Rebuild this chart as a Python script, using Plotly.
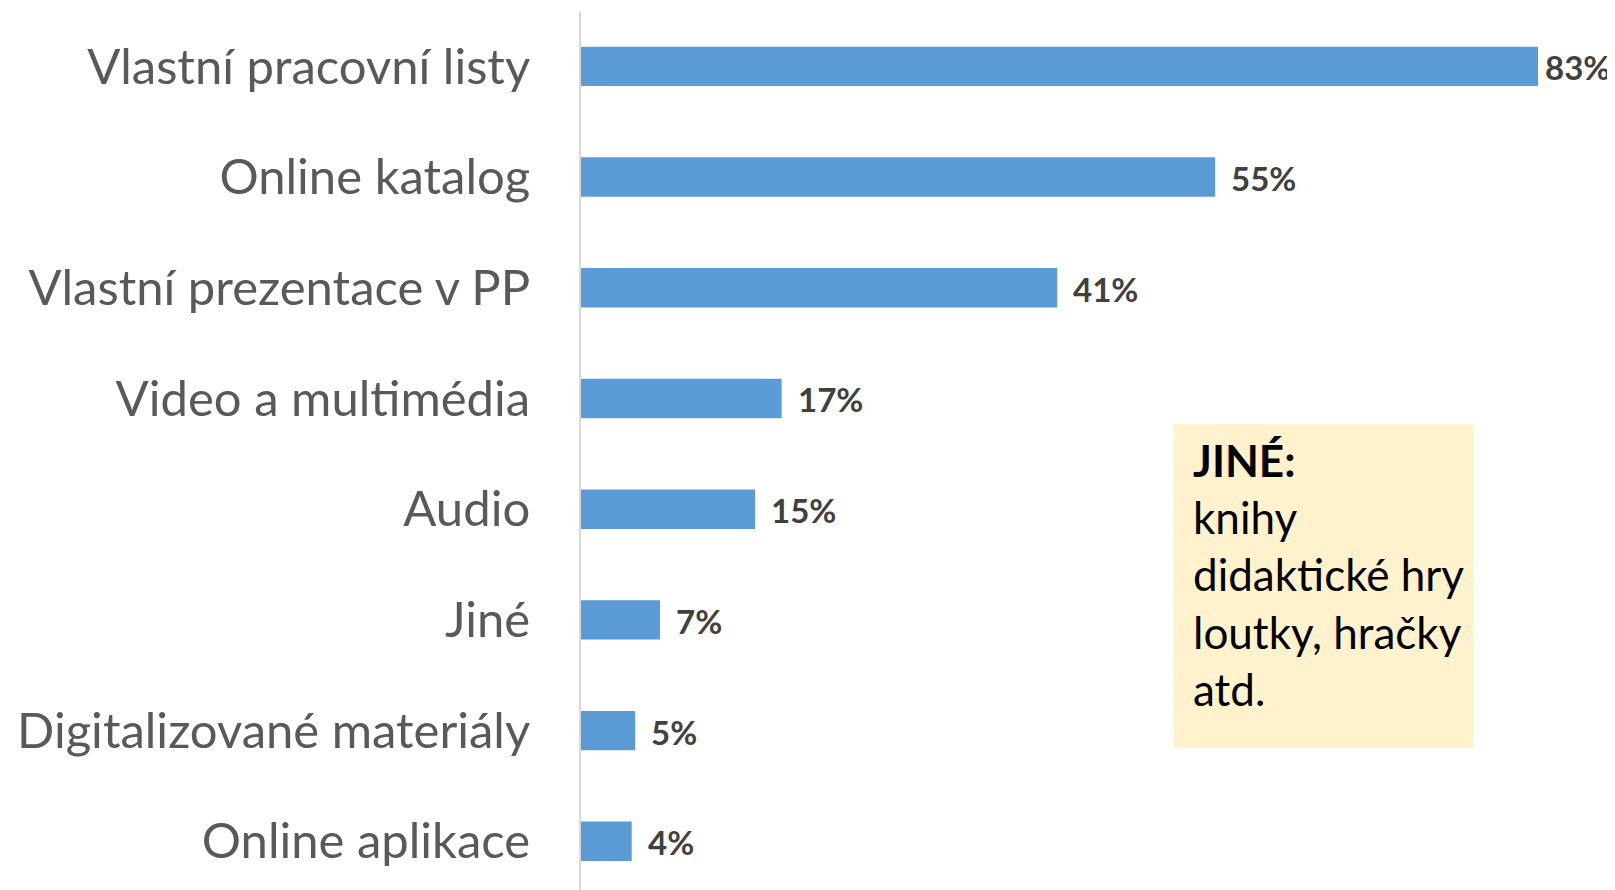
import plotly.graph_objects as go

categories = [
    "Vlastní pracovní listy",
    "Online katalog",
    "Vlastní prezentace v PP",
    "Video a multimédia",
    "Audio",
    "Jiné",
    "Digitalizované materiály",
    "Online aplikace",
]
values = [83.0, 55.0, 41.3, 17.4, 15.1, 6.85, 4.7, 4.4]
value_labels = ["83%", "55%", "41%", "17%", "15%", "7%", "5%", "4%"]

note_title = "JINÉ:"
note_lines = ["knihy", "didaktické hry", "loutky, hračky", "atd."]

OFF = 8  # page body margin
W, H = 1615 - OFF, 890 - OFF
ML, MT = 581 - OFF, 11 - OFF
PW, PH = W - ML, H - MT
PX_PER_UNIT = 11.53
XMAX = PW / PX_PER_UNIT

def px_x(x):
    return (x - OFF - ML) / PW

def px_y(y):
    return (H - (y - OFF)) / PH

FONT = "Lato"
BAR_COLOR = "#5B9BD5"
LABEL_W = 72  # room needed for a value label in px

fig = go.Figure()
fig.add_trace(go.Bar(
    x=values,
    y=categories,
    orientation="h",
    width=0.356,
    marker=dict(color=BAR_COLOR, line=dict(width=0)),
    hoverinfo="skip",
))

for v, c, t in zip(values, categories, value_labels):
    room = (XMAX - v) * PX_PER_UNIT - LABEL_W
    shift = max(2, min(14, room))
    fig.add_annotation(
        x=v, y=c, xref="x", yref="y",
        text="<b>" + t + "</b>",
        showarrow=False, xanchor="left", yanchor="middle",
        xshift=shift, yshift=-1,
        font=dict(family=FONT, size=33, color="#404040"),
    )

# note box
fig.add_shape(
    type="rect", xref="paper", yref="paper",
    x0=px_x(1174), x1=px_x(1473), y0=px_y(748), y1=px_y(424),
    fillcolor="#FFF2CC", line=dict(width=0), layer="above",
)
fig.add_annotation(
    xref="paper", yref="paper",
    x=px_x(1191), y=px_y(432),
    xanchor="left", yanchor="top", align="left",
    text="<b>" + note_title + "</b><br>" + "<br>".join(note_lines),
    showarrow=False,
    font=dict(family=FONT, size=44, color="#000000"),
)

fig.update_layout(
    width=W, height=H,
    margin=dict(l=ML, r=0, t=MT, b=0, pad=0),
    paper_bgcolor="white", plot_bgcolor="white",
    showlegend=False,
    bargap=0.5,
    xaxis=dict(
        range=[0, XMAX],
        showgrid=False, zeroline=False, showticklabels=False,
        showline=False, ticks="",
    ),
    yaxis=dict(
        type="category",
        range=[7.44, -0.5],
        showgrid=False, zeroline=False,
        showline=True, linecolor="#D9D9D9", linewidth=2,
        ticks="", ticklabelstandoff=39,
        tickfont=dict(family=FONT, size=49, color="#595959"),
    ),
)

fig.write_html("out.html")
